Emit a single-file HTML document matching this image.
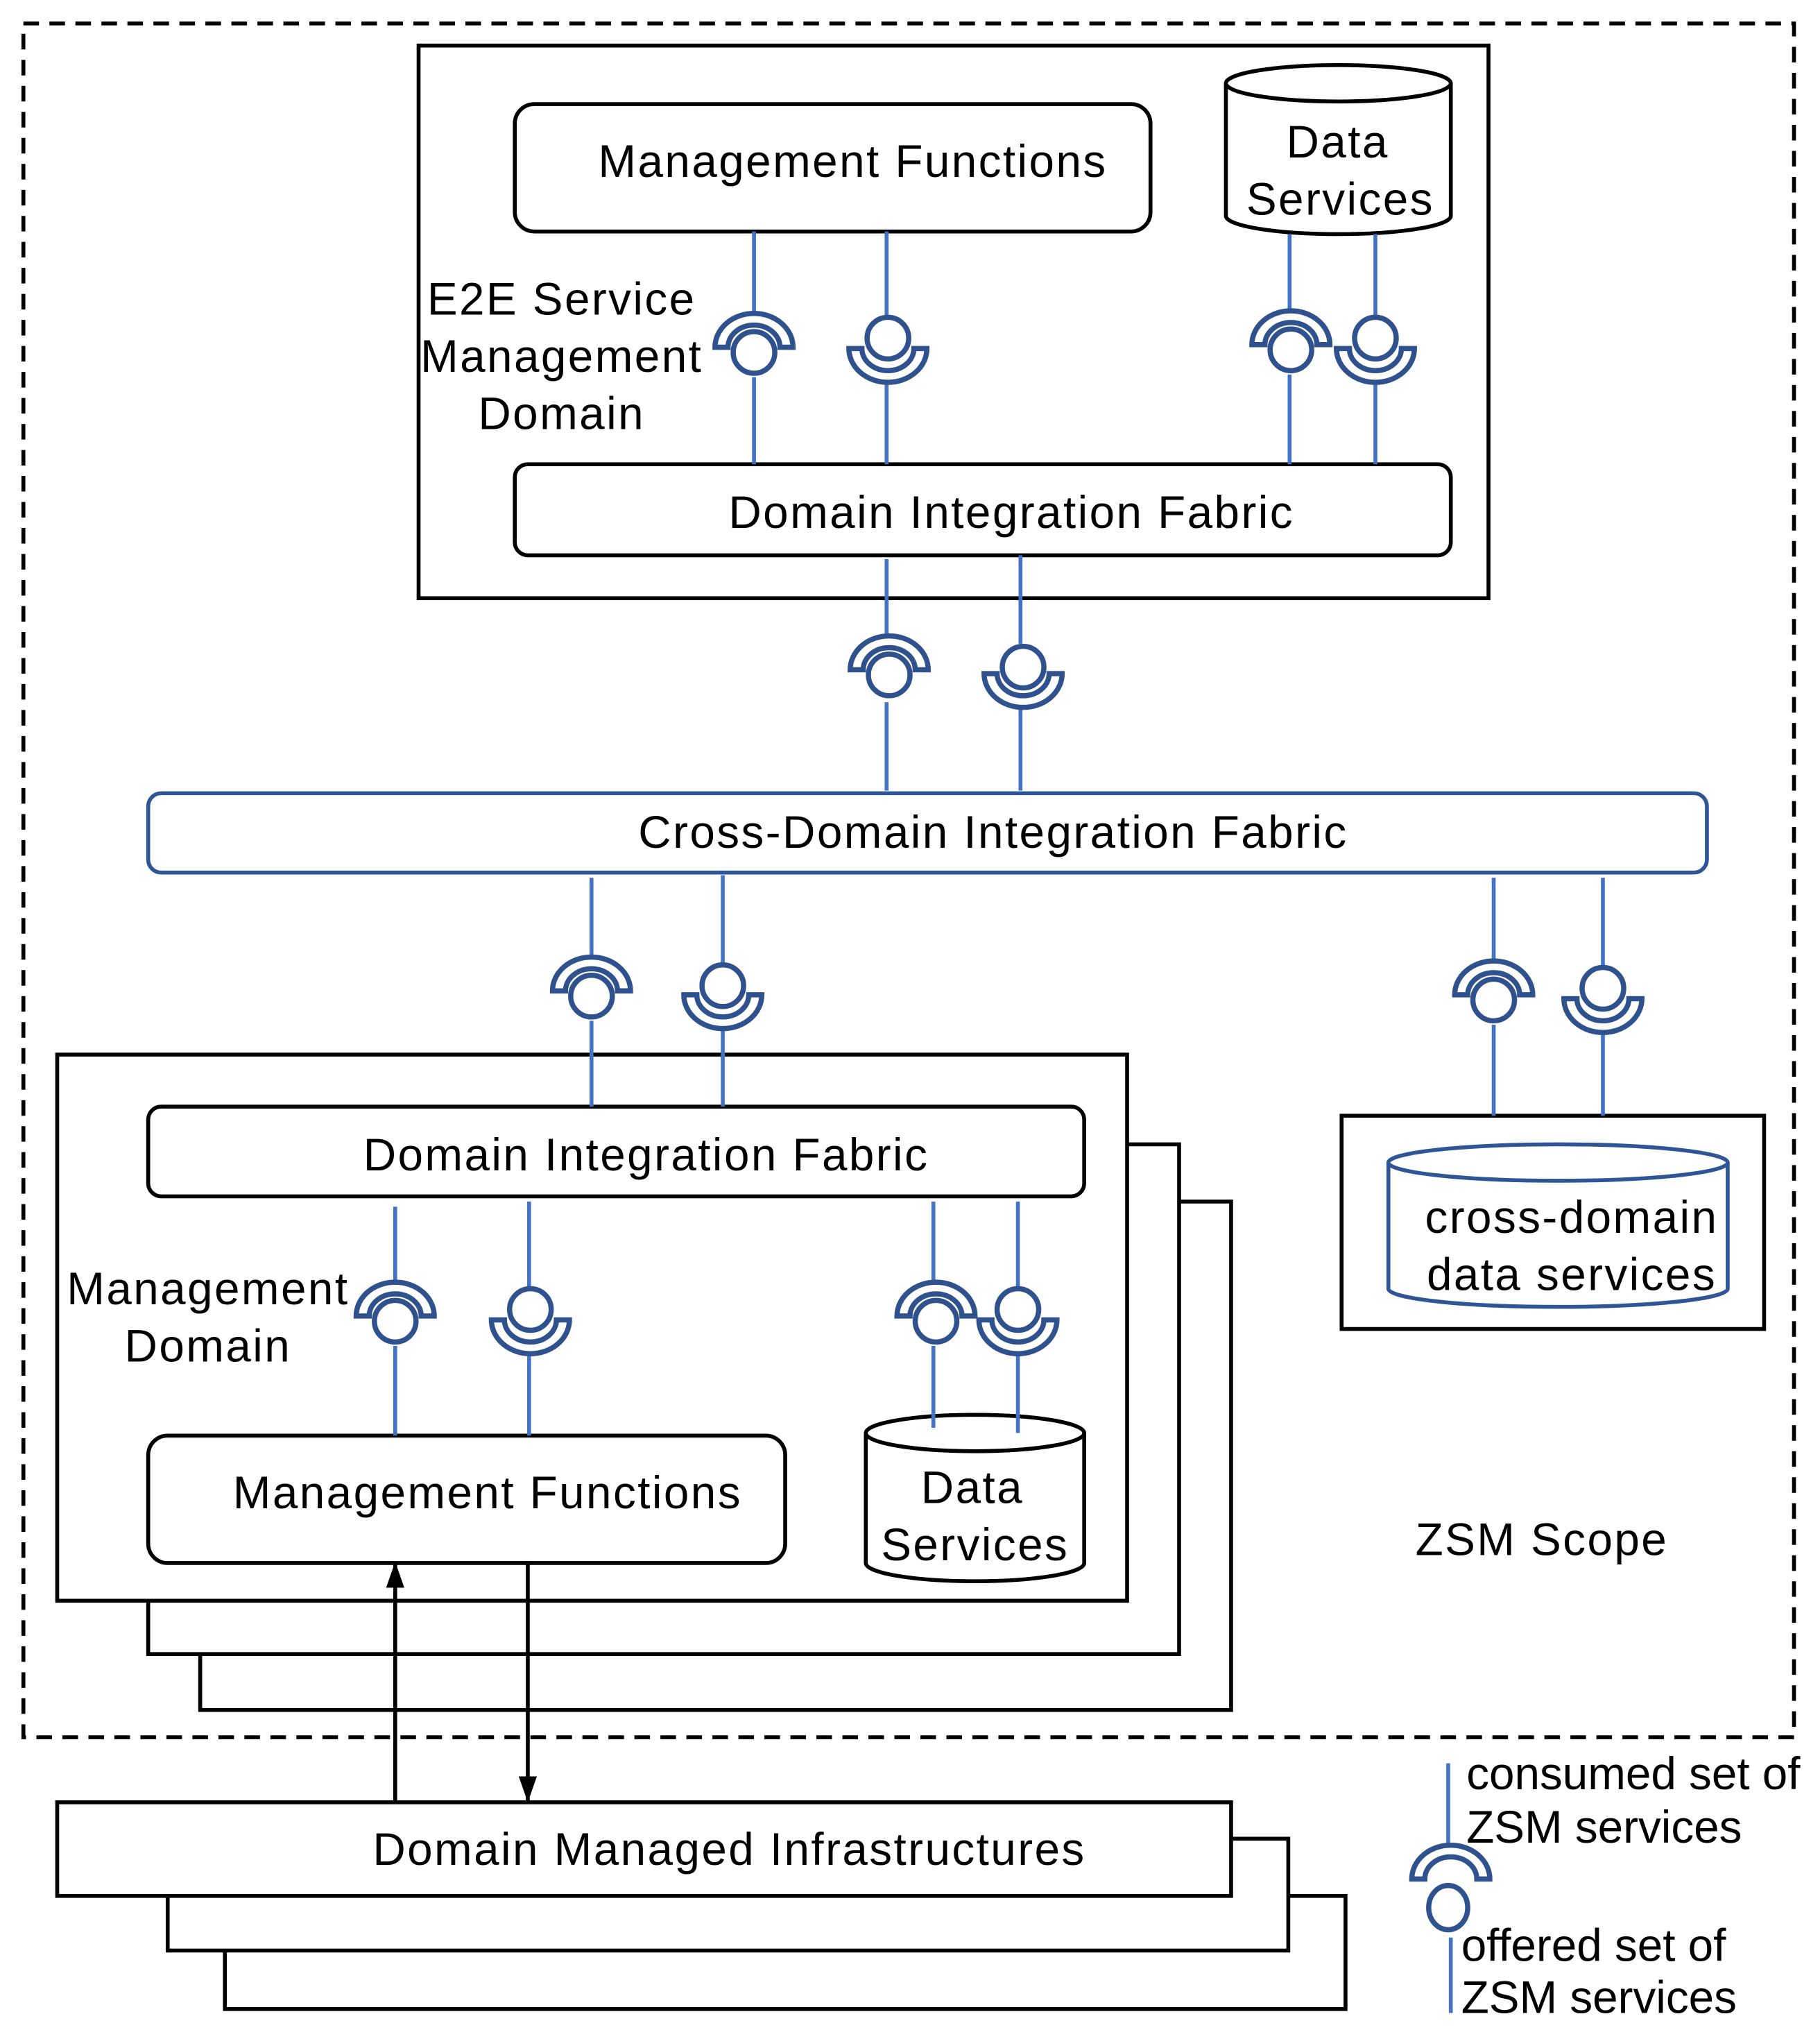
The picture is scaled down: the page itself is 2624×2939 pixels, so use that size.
<!DOCTYPE html>
<html><head><style>html,body{margin:0;padding:0;background:#fff}svg{display:block}text{font-family:"Liberation Sans",Arial,sans-serif;font-size:35px;fill:#000;letter-spacing:1.3px}</style></head><body>
<svg width="2624" height="2939" viewBox="0 0 1400 1568" xmlns="http://www.w3.org/2000/svg">
<defs>
<g id="sockU"><path d="M-30,0 A30,26 0 0 1 30,0 L20,0 A20,17 0 0 0 -20,0 Z" fill="#fff" stroke="#2F528F" stroke-width="4"/></g>
<g id="sockD"><path d="M-30,0 A30,26 0 0 0 30,0 L20,0 A20,17 0 0 1 -20,0 Z" fill="#fff" stroke="#2F528F" stroke-width="4"/></g>
<marker id="ar" markerWidth="20" markerHeight="14" refX="19" refY="7" orient="auto" markerUnits="userSpaceOnUse"><path d="M0,0 L20,7 L0,14 Z" fill="#000"/></marker>
</defs>
<rect x="18" y="18" width="1362" height="1318" fill="none" stroke="#000" stroke-width="3" stroke-dasharray="12,8"/>
<rect x="322" y="35" width="823" height="425" fill="none" stroke="#000" stroke-width="3"/>
<rect x="396" y="80" width="489" height="98" rx="15" fill="#fff" stroke="#000" stroke-width="3"/>
<text x="656" y="136" text-anchor="middle">Management Functions</text>
<path d="M943,64 L943,166 A86.5,14 0 0 0 1116,166 L1116,64" fill="#fff" stroke="#000" stroke-width="3"/>
<ellipse cx="1029.5" cy="64" rx="86.5" ry="14" fill="#fff" stroke="#000" stroke-width="3"/>
<text x="1029" y="121" text-anchor="middle">Data</text><text x="1031" y="165" text-anchor="middle">Services</text>
<text x="432" y="242" text-anchor="middle">E2E Service</text><text x="432" y="286" text-anchor="middle">Management</text><text x="432" y="330" text-anchor="middle">Domain</text>
<rect x="396" y="357" width="720" height="70" rx="10" fill="#fff" stroke="#000" stroke-width="3"/>
<text x="778" y="406" text-anchor="middle">Domain Integration Fabric</text>
<rect x="114" y="610" width="1199" height="61" rx="10" fill="#fff" stroke="#2F5597" stroke-width="3"/>
<text x="764" y="652" text-anchor="middle">Cross-Domain Integration Fabric</text>
<rect x="154" y="924" width="793" height="391" fill="#fff" stroke="#000" stroke-width="3"/>
<rect x="114" y="880" width="793" height="392" fill="#fff" stroke="#000" stroke-width="3"/>
<rect x="44" y="811" width="823" height="420" fill="#fff" stroke="#000" stroke-width="3"/>
<rect x="114" y="851" width="720" height="69" rx="10" fill="#fff" stroke="#000" stroke-width="3"/>
<text x="497" y="900" text-anchor="middle">Domain Integration Fabric</text>
<text x="160" y="1003" text-anchor="middle">Management</text><text x="160" y="1047" text-anchor="middle">Domain</text>
<rect x="114" y="1104" width="490" height="98" rx="15" fill="#fff" stroke="#000" stroke-width="3"/>
<text x="375" y="1160" text-anchor="middle">Management Functions</text>
<path d="M666,1102 L666,1202 A84,14 0 0 0 834,1202 L834,1102" fill="#fff" stroke="#000" stroke-width="3"/>
<ellipse cx="750" cy="1102" rx="84" ry="14" fill="#fff" stroke="#000" stroke-width="3"/>
<text x="748" y="1156" text-anchor="middle">Data</text><text x="750" y="1200" text-anchor="middle">Services</text>
<rect x="1032" y="858" width="325" height="164" fill="#fff" stroke="#000" stroke-width="3"/>
<path d="M1068,894 L1068,991 A130.5,14 0 0 0 1329,991 L1329,894" fill="#fff" stroke="#2F5597" stroke-width="3"/>
<ellipse cx="1198.5" cy="894" rx="130.5" ry="14" fill="#fff" stroke="#2F5597" stroke-width="3"/>
<text x="1209" y="948" text-anchor="middle">cross-domain</text><text x="1209" y="992" text-anchor="middle">data services</text>
<text x="1186" y="1196" text-anchor="middle">ZSM Scope</text>
<rect x="173" y="1458" width="862" height="87" fill="#fff" stroke="#000" stroke-width="3"/>
<rect x="129" y="1414" width="862" height="86" fill="#fff" stroke="#000" stroke-width="3"/>
<rect x="44" y="1386" width="903" height="72" fill="#fff" stroke="#000" stroke-width="3"/>
<text x="561" y="1434" text-anchor="middle">Domain Managed Infrastructures</text>
<line x1="304" y1="1386" x2="304" y2="1202" stroke="#000" stroke-width="3" marker-end="url(#ar)"/>
<line x1="406" y1="1202" x2="406" y2="1385" stroke="#000" stroke-width="3" marker-end="url(#ar)"/>
<g stroke="#4472C4" stroke-width="3">
<line x1="580" y1="178" x2="580" y2="240"/><line x1="580" y1="290" x2="580" y2="357"/>
<line x1="682" y1="178" x2="682" y2="245"/><line x1="682" y1="290" x2="682" y2="357"/>
<line x1="992" y1="180" x2="992" y2="240"/><line x1="992" y1="288" x2="992" y2="357"/>
<line x1="1058" y1="180" x2="1058" y2="245"/><line x1="1058" y1="290" x2="1058" y2="357"/>
<line x1="682" y1="430" x2="682" y2="490"/><line x1="682" y1="540" x2="682" y2="608"/>
<line x1="785" y1="427" x2="785" y2="495"/><line x1="785" y1="540" x2="785" y2="608"/>
<line x1="455" y1="675" x2="455" y2="737"/><line x1="455" y1="785" x2="455" y2="851"/>
<line x1="556" y1="673" x2="556" y2="742"/><line x1="556" y1="787" x2="556" y2="851"/>
<line x1="1149" y1="675" x2="1149" y2="740"/><line x1="1149" y1="788" x2="1149" y2="858"/>
<line x1="1233" y1="675" x2="1233" y2="745"/><line x1="1233" y1="790" x2="1233" y2="858"/>
<line x1="304" y1="928" x2="304" y2="988"/><line x1="304" y1="1035" x2="304" y2="1104"/>
<line x1="407" y1="924" x2="407" y2="992"/><line x1="407" y1="1037" x2="407" y2="1104"/>
<line x1="718" y1="924" x2="718" y2="990"/><line x1="718" y1="1035" x2="718" y2="1098"/>
<line x1="783" y1="924" x2="783" y2="992"/><line x1="783" y1="1037" x2="783" y2="1102"/>
<line x1="1114" y1="1356" x2="1114" y2="1420"/><line x1="1116" y1="1490" x2="1116" y2="1548"/>
</g>
<g fill="#fff" stroke="#2F528F" stroke-width="4">
<use href="#sockU" x="580" y="267"/><circle cx="580" cy="271" r="16"/>
<use href="#sockU" x="993" y="265"/><circle cx="993" cy="269" r="16"/>
<use href="#sockU" x="684" y="515"/><circle cx="684" cy="519" r="16"/>
<use href="#sockU" x="455" y="762"/><circle cx="455" cy="766" r="16"/>
<use href="#sockU" x="1149" y="765"/><circle cx="1149" cy="769" r="16"/>
<use href="#sockU" x="304" y="1012"/><circle cx="304" cy="1016" r="16"/>
<use href="#sockU" x="720" y="1012"/><circle cx="720" cy="1016" r="16"/>
<circle cx="683" cy="260" r="16"/><use href="#sockD" x="683" y="268"/>
<circle cx="1058" cy="260" r="16"/><use href="#sockD" x="1058" y="268"/>
<circle cx="787" cy="513" r="16"/><use href="#sockD" x="787" y="518"/>
<circle cx="556" cy="758" r="16"/><use href="#sockD" x="556" y="765"/>
<circle cx="1233" cy="760" r="16"/><use href="#sockD" x="1233" y="768"/>
<circle cx="408" cy="1007" r="16"/><use href="#sockD" x="408" y="1015"/>
<circle cx="783" cy="1007" r="16"/><use href="#sockD" x="783" y="1015"/>
<use href="#sockU" x="1116" y="1445"/>
<ellipse cx="1114" cy="1467" rx="15" ry="17"/>
</g>
<text x="1128" y="1376" style="letter-spacing:0">consumed set of</text><text x="1128" y="1417" style="letter-spacing:0">ZSM  services</text>
<text x="1124" y="1508" style="letter-spacing:0">offered set of</text><text x="1124" y="1548" style="letter-spacing:0">ZSM  services</text>
</svg>
</body></html>
